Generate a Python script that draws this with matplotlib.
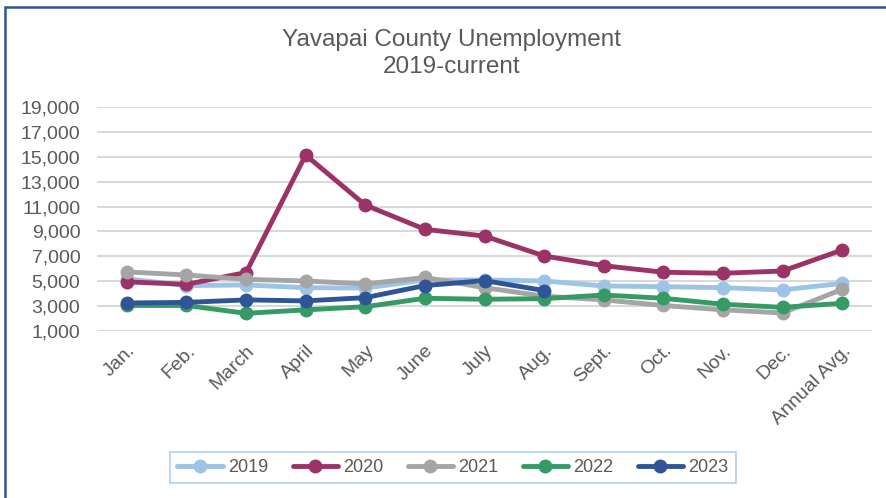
import matplotlib.pyplot as plt
from matplotlib.patches import Rectangle

plt.rcParams['font.family'] = ['Liberation Sans', 'DejaVu Sans']

months = ['Jan.', 'Feb.', 'March', 'April', 'May', 'June', 'July', 'Aug.',
          'Sept.', 'Oct.', 'Nov.', 'Dec.', 'Annual Avg.']

y2019 = [5200, 4650, 4700, 4480, 4450, 5100, 5100, 5020, 4620, 4560, 4480, 4300, 4830]
y2020 = [4950, 4750, 5700, 15140, 11120, 9170, 8630, 7030, 6250, 5720, 5640, 5820, 7510]
y2021 = [5750, 5500, 5150, 5020, 4780, 5300, 4480, 3800, 3500, 3050, 2700, 2450, 4350]
y2022 = [3050, 3050, 2420, 2700, 2950, 3630, 3550, 3600, 3890, 3630, 3150, 2900, 3230]
y2023 = [3250, 3300, 3500, 3420, 3680, 4650, 5050, 4250]

series = [('2019', y2019, '#9DC3E6'),
          ('2020', y2020, '#9B3366'),
          ('2021', y2021, '#A5A5A5'),
          ('2022', y2022, '#369A65'),
          ('2023', y2023, '#2F5597')]

fig = plt.figure(figsize=(8.86, 4.98), dpi=100)
ax = fig.add_axes([97/886, 1-331/498, 775/886, 224/498])

# chart frame (cropped on right and bottom)
fig.patches.append(Rectangle((5/886, -0.1), 1.2, 1 - 7/498 + 0.1, transform=fig.transFigure,
                             fill=False, edgecolor='#2F5597', linewidth=1.8))

for name, vals, col in series:
    ax.plot(range(len(vals)), vals, color=col, linewidth=3.5, marker='o',
            markersize=9, label=name, solid_capstyle='round')

ax.set_xlim(-0.5, 12.5)
ax.set_ylim(1000, 19000)
ax.set_yticks(range(1000, 19001, 2000))
ax.set_yticklabels([f'{v:,}' for v in range(1000, 19001, 2000)])
ax.set_xticks(range(len(months)))
ax.set_xticklabels(months, rotation=45, ha='right', va='top', rotation_mode='anchor')
ax.tick_params(axis='both', length=0, labelsize=14, labelcolor='#595959')
ax.tick_params(axis='y', pad=12)
ax.tick_params(axis='x', pad=8)
ax.grid(axis='y', color='#D9D9D9', linewidth=1.5)
ax.set_axisbelow(True)
for s in ax.spines.values():
    s.set_visible(False)

fig.text(452/886, 1-40/498, 'Yavapai County Unemployment', ha='center', va='center',
         fontsize=17.5, color='#595959')
fig.text(452/886, 1-67/498, '2019-current', ha='center', va='center',
         fontsize=17.5, color='#595959')

leg = fig.legend(loc='center', bbox_to_anchor=(453/886, 1-467.5/498), ncol=5,
                 fontsize=13, frameon=True, fancybox=False, handlelength=2.5,
                 columnspacing=1.35, handletextpad=0.3, borderpad=0.4)
leg.get_frame().set_edgecolor('#9DC3E6')
leg.get_frame().set_linewidth(1.2)
for t in leg.get_texts():
    t.set_color('#595959')

fig.savefig('out.png', dpi=100)
